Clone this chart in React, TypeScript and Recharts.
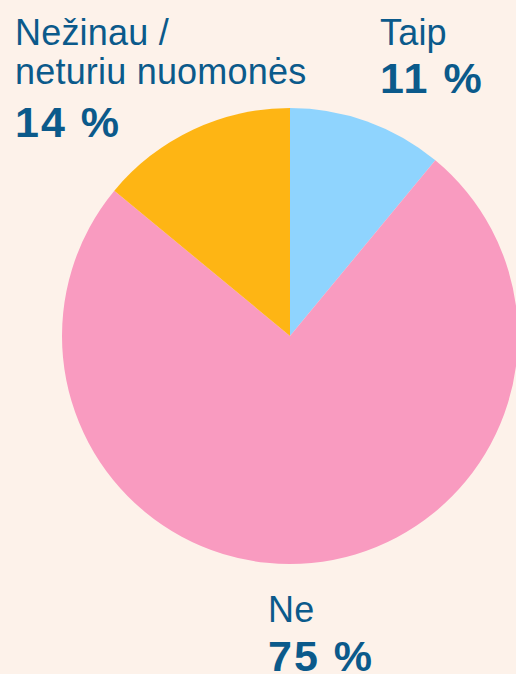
import { PieChart, Pie, Cell } from 'recharts'

const categories = ['Taip', 'Ne', 'Nežinau / neturiu nuomonės']
const shares = [11, 75, 14]
const colors = ['#8fd4fe', '#f99bc0', '#feb514']

// label lines and where each block sits
const labelLines = [['Taip'], ['Ne'], ['Nežinau /', 'neturiu nuomonės']]
const labelPos = [
  { x: 380, y: 45, dy: 48 },
  { x: 268, y: 622, dy: 49 },
  { x: 15, y: 45, dy: 53 },
]

const data = categories.map((name, i) => ({ name, value: shares[i] }))

const TEXT = '#0b5a8b'
const FONT = 'Liberation Sans, Arial, sans-serif'

const renderLabel = (props: any) => {
  const i = props.index
  const pos = labelPos[i]
  const lines = labelLines[i]
  return (
    <g key={`lbl-${i}`}>
      {lines.map((line, j) => (
        <text key={j} x={pos.x} y={pos.y + j * 39} fill={TEXT} fontSize={36} letterSpacing={0.2} fontFamily={FONT}>
          {line}
        </text>
      ))}
      <text
        x={pos.x}
        y={pos.y + (lines.length - 1) * 39 + pos.dy}
        fill={TEXT}
        fontSize={43}
        fontWeight="bold"
        letterSpacing={2}
        fontFamily={FONT}
      >
        {`${shares[i]} %`}
      </text>
    </g>
  )
}

export default function App() {
  return (
    <div style={{ position: 'absolute', left: 0, top: 0, width: 516, height: 674, background: '#fdf2ea' }}>
      <PieChart width={516} height={674} margin={{ top: 0, right: 0, bottom: 0, left: 0 }}>
        <Pie
          data={data}
          dataKey="value"
          nameKey="name"
          cx={290}
          cy={336}
          innerRadius={0}
          outerRadius={228}
          startAngle={90}
          endAngle={-270}
          stroke="none"
          label={renderLabel}
          labelLine={false}
          isAnimationActive={false}
        >
          {data.map((d, i) => (
            <Cell key={d.name} fill={colors[i]} />
          ))}
        </Pie>
      </PieChart>
    </div>
  )
}
